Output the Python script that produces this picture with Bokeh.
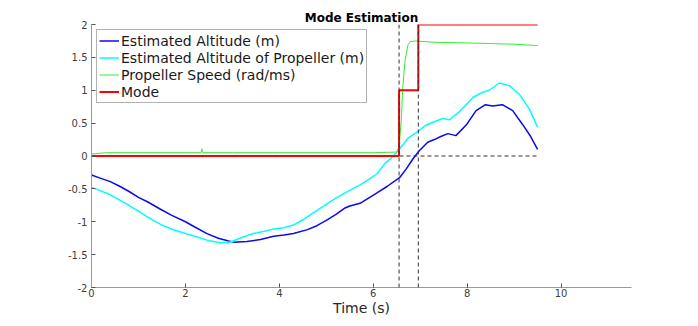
from bokeh.plotting import figure
from bokeh.models import Range1d, FixedTicker, Span
from bokeh.embed import file_html
from bokeh.resources import INLINE

# ---- data ----
alt_t = [0, 0.2, 0.4, 0.6, 0.8, 1.0, 1.2, 1.47, 1.7, 2.0, 2.2, 2.46, 2.7, 2.9, 3.03,
         3.31, 3.6, 3.88, 4.1, 4.3, 4.6, 4.8, 5.0, 5.2, 5.4, 5.5, 5.72, 5.9, 6.08, 6.3,
         6.56, 6.7, 6.84, 6.98, 7.16, 7.3, 7.45, 7.59, 7.76, 7.98, 8.19, 8.39, 8.54,
         8.75, 8.97, 9.18, 9.35, 9.5]
alt_v = [-0.29, -0.34, -0.39, -0.46, -0.54, -0.63, -0.70, -0.81, -0.90, -1.0, -1.08,
         -1.18, -1.25, -1.29, -1.31, -1.30, -1.27, -1.22, -1.20, -1.18, -1.12, -1.06,
         -0.98, -0.89, -0.79, -0.76, -0.72, -0.64, -0.56, -0.46, -0.33, -0.20, -0.05,
         0.08, 0.21, 0.25, 0.30, 0.34, 0.31, 0.47, 0.69, 0.78, 0.76, 0.78, 0.69, 0.48,
         0.30, 0.10]

prop_t = [0, 0.2, 0.4, 0.7, 1.0, 1.2, 1.47, 1.7, 2.0, 2.2, 2.46, 2.74, 2.9, 3.03, 3.2,
          3.45, 3.7, 3.88, 4.1, 4.3, 4.5, 4.73, 4.95, 5.16, 5.4, 5.72, 5.9, 6.08, 6.24,
          6.4, 6.53, 6.74, 6.95, 7.1, 7.3, 7.48, 7.62, 7.83, 8.12, 8.33, 8.47, 8.68,
          8.9, 9.11, 9.32, 9.5]
prop_v = [-0.48, -0.53, -0.59, -0.71, -0.84, -0.93, -1.04, -1.11, -1.18, -1.22, -1.28,
          -1.32, -1.32, -1.29, -1.24, -1.18, -1.14, -1.11, -1.09, -1.05, -0.97, -0.86,
          -0.76, -0.66, -0.56, -0.44, -0.36, -0.27, -0.12, -0.02, 0.08, 0.27, 0.37,
          0.46, 0.52, 0.57, 0.55, 0.67, 0.89, 0.97, 1.0, 1.11, 1.07, 0.94, 0.72, 0.44]

speed_t = [0, 0.3, 1.0, 2.0, 2.33, 2.35, 2.37, 3.0, 4.0, 5.0, 6.0, 6.5, 6.55, 6.6,
           6.63, 6.68, 6.74, 6.79, 6.9, 7.3, 8.0, 8.5, 9.0, 9.5]
speed_v = [0.03, 0.05, 0.05, 0.05, 0.05, 0.11, 0.05, 0.05, 0.05, 0.05, 0.05, 0.06,
           0.15, 0.57, 1.06, 1.46, 1.69, 1.74, 1.75, 1.73, 1.72, 1.71, 1.70, 1.68]

mode_t = [0, 6.55, 6.96, 9.5]
mode_v = [0, 1, 2, 2]

switch_times = [6.55, 6.96]
x_ticks = [0, 2, 4, 6, 8, 10]
y_ticks = [-2, -1.5, -1, -0.5, 0, 0.5, 1, 1.5, 2]
y_tick_labels = ["-2", "-1.5", "-1", "-0.5", "0", "0.5", "1", "1.5", "2"]

FONT = "DejaVu Sans"

p = figure(width=682, height=318, output_backend="svg", toolbar_location=None,
           x_range=Range1d(0, 11.5), y_range=Range1d(-2, 2),
           min_border_left=91, min_border_right=51, min_border_top=24,
           min_border_bottom=26)
p.outline_line_color = None
p.xgrid.visible = False
p.ygrid.visible = False
p.background_fill_color = "white"
p.border_fill_color = "white"

p.title.text = "Mode Estimation"
p.title.align = "center"
p.title.text_font = FONT
p.title.text_font_size = "12px"
p.title.text_font_style = "bold"
p.title.text_color = "black"
p.title.standoff = 0
p.title.offset = 0

for ax in (p.xaxis[0], p.yaxis[0]):
    ax.axis_line_color = "#9a9a9a"
    ax.major_tick_line_color = "#555555"
    ax.major_tick_in = 4
    ax.major_tick_out = 0
    ax.minor_tick_line_color = None
    ax.major_label_text_font = FONT
    ax.major_label_text_font_size = "10px"
    ax.major_label_text_color = "#404040"

p.xaxis.ticker = FixedTicker(ticks=x_ticks)
p.yaxis.ticker = FixedTicker(ticks=y_ticks)
p.yaxis.major_label_overrides = {v: s for v, s in zip(y_ticks, y_tick_labels)}
p.xaxis.major_label_overrides = {v: str(v) for v in x_ticks}
p.xaxis.axis_label = "Time (s)"
p.xaxis.axis_label_text_font = FONT
p.xaxis.axis_label_text_font_size = "14px"
p.xaxis.axis_label_text_font_style = "normal"
p.xaxis.axis_label_text_color = "#262626"
p.xaxis.axis_label_standoff = 0
p.xaxis.major_label_standoff = 1
p.yaxis.major_label_standoff = 4

# dashed reference lines
for ts in switch_times:
    p.add_layout(Span(location=ts, dimension="height", line_color="#333333",
                      line_width=1, line_dash="4 3"))
p.line([0, 9.5], [0, 0], line_color="#333333", line_width=1, line_dash="4 3")

p.line(alt_t, alt_v, line_color="#0a0af0", line_width=1.5,
       legend_label="Estimated Altitude (m)")
p.line(prop_t, prop_v, line_color="#00ffff", line_width=1.5,
       legend_label="Estimated Altitude of Propeller (m)")
p.line(speed_t, speed_v, line_color="#33ee33", line_width=1,
       legend_label="Propeller Speed (rad/ms)")
p.step(mode_t, mode_v, mode="after", line_color="#ff0000", line_width=2,
       legend_label="Mode")

lg = p.legend[0]
lg.location = "top_left"
lg.margin = 5
lg.padding = 2
lg.spacing = 0
lg.label_height = 17
lg.glyph_height = 17
lg.glyph_width = 20
lg.label_standoff = 2
lg.label_text_font = FONT
lg.label_text_font_size = "14px"
lg.label_text_color = "#1a1a1a"
lg.border_line_color = "#666666"
lg.border_line_width = 1
lg.background_fill_alpha = 1
lg.background_fill_color = "white"

open("out.html", "w").write(file_html(p, INLINE))
